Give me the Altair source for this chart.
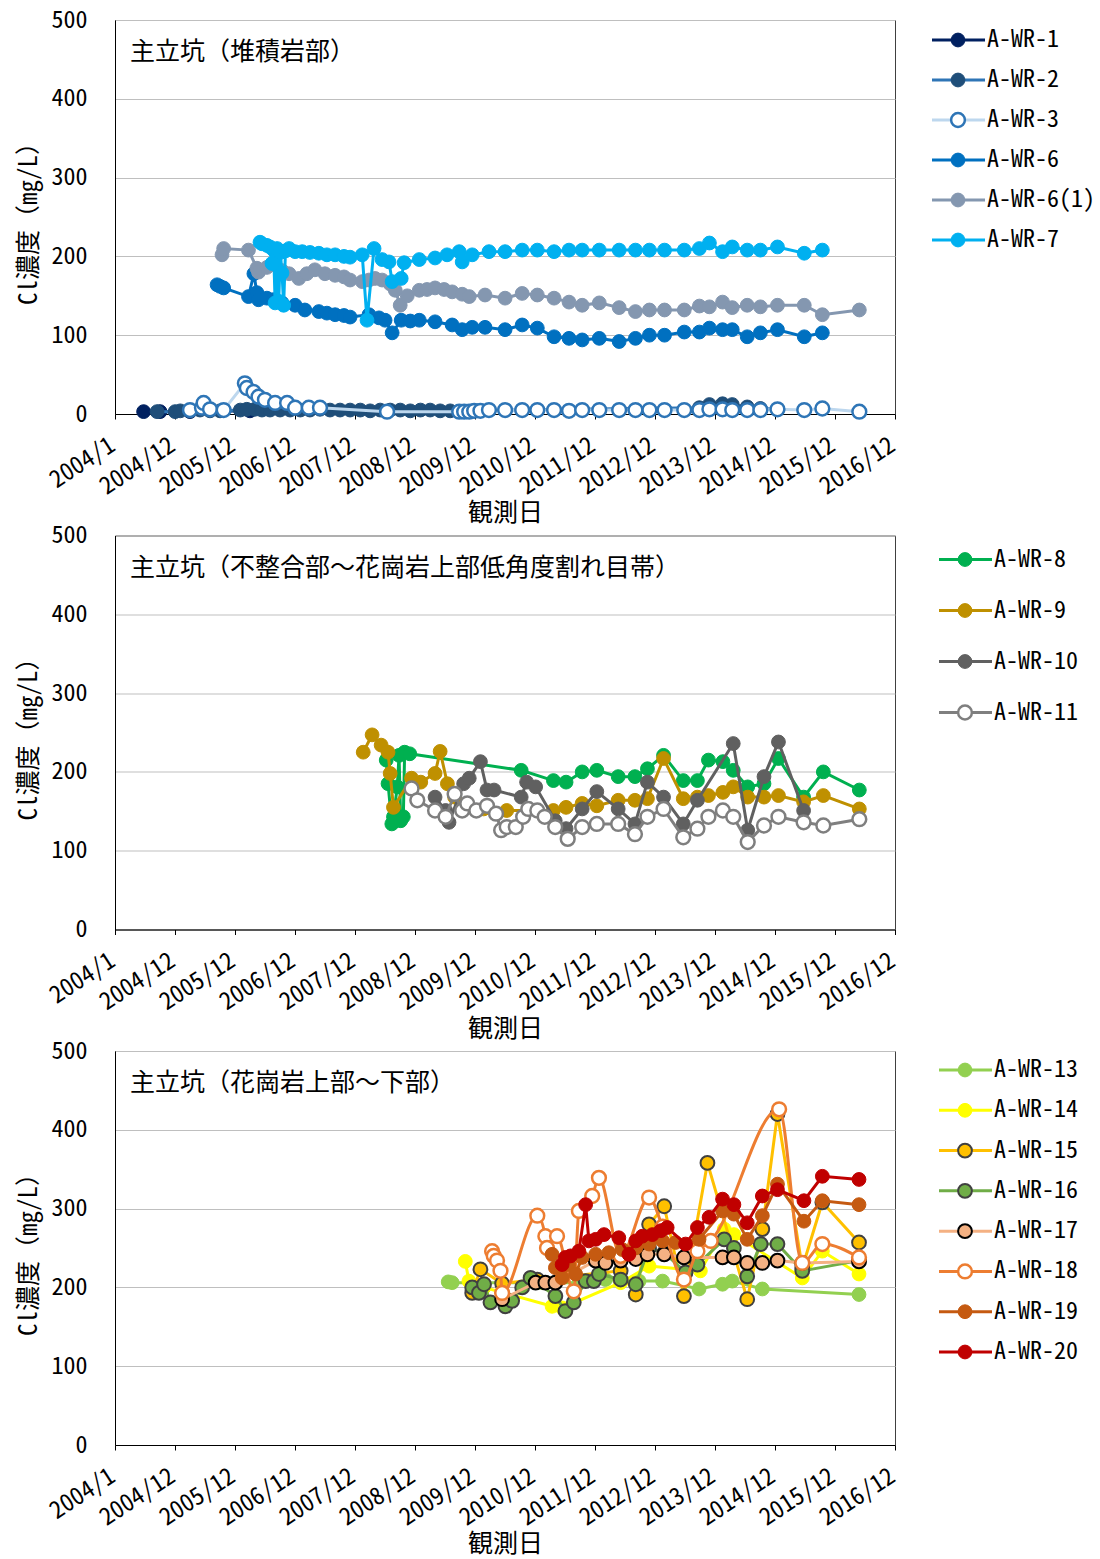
import json

import altair as alt
import pandas as pd

FONT = "'Noto Sans Mono CJK JP', 'Noto Sans CJK JP', monospace"
FONT_SIZE = 24
TITLE_SIZE = 25
MARK_SIZE = 190

ORIGIN = pd.Timestamp("2004-01-01")
TICK_LABELS = ["2004/1", "2004/12", "2005/12", "2006/12", "2007/12", "2008/12", "2009/12",
               "2010/12", "2011/12", "2012/12", "2013/12", "2014/12", "2015/12", "2016/12"]
AXIS_DAYS = [365 * i for i in range(len(TICK_LABELS))]

PANEL_TITLES = ["主立坑（堆積岩部）", "主立坑（不整合部～花崗岩上部低角度割れ目帯）", "主立坑（花崗岩上部～下部）"]

# ---- 主立坑（堆積岩部） ----
WR1_DATES = ["2004-06-23", "2004-10-01", "2005-04-01", "2006-04-01"]
WR1_CL = [3, 3, 3, 4]

WR2_DATES = ["2004-09-13", "2005-01-01", "2005-02-01", "2005-04-01", "2005-06-01", "2005-08-01", "2005-10-01",
             "2006-02-01", "2006-03-13", "2006-05-01", "2006-06-13", "2006-08-01", "2006-10-01", "2006-12-01",
             "2007-02-01", "2007-04-01", "2007-06-01", "2007-08-01", "2007-10-01", "2007-12-01",
             "2008-02-01", "2008-04-01", "2008-06-01", "2008-08-01", "2008-10-01", "2008-12-01",
             "2009-02-01", "2009-04-01", "2009-06-01", "2009-08-01",
             "2013-09-25", "2013-11-25", "2014-02-13", "2014-04-13", "2014-07-13", "2014-10-01", "2015-01-13"]
WR2_CL = [3, 3, 4, 4, 5, 4, 4, 5, 6, 6, 5, 5, 5, 5, 5, 5, 6, 5, 5, 5, 5, 4, 5, 5, 5, 4, 5, 5, 4, 4,
          8, 12, 13, 12, 9, 7, 6]

WR3_DATES = ["2005-04-01", "2005-06-13", "2005-06-23", "2005-08-01", "2005-10-23", "2006-03-01", "2006-03-13",
             "2006-04-23", "2006-05-23", "2006-07-01", "2006-09-01", "2006-11-13", "2007-01-01", "2007-03-25",
             "2007-06-01", "2008-07-13", "2009-09-25", "2009-10-25", "2009-11-25", "2009-12-25", "2010-02-01",
             "2010-03-25", "2010-07-01", "2010-10-13", "2011-01-13", "2011-04-25", "2011-07-25", "2011-10-13",
             "2012-01-25", "2012-05-25", "2012-09-01", "2012-11-25", "2013-02-25", "2013-06-25", "2013-09-25",
             "2013-11-25", "2014-02-13", "2014-04-13", "2014-07-13", "2014-10-01", "2015-01-13", "2015-06-25",
             "2015-10-13", "2016-05-25"]
WR3_CL = [5, 8, 14, 6, 5, 39, 33, 28, 22, 18, 14, 14, 8, 8, 8, 3, 3, 3, 3, 4, 4, 5, 5, 5, 5, 5, 4, 5,
          5, 5, 5, 5, 5, 5, 5, 6, 6, 5, 5, 5, 6, 5, 7, 3]

WR6_DATES = ["2005-09-13", "2005-10-01", "2005-10-23", "2006-03-23", "2006-04-25", "2006-05-13", "2006-05-23",
             "2006-07-13", "2006-08-20", "2006-10-13", "2007-01-01", "2007-03-01", "2007-05-25", "2007-07-13",
             "2007-09-01", "2007-10-25", "2007-12-01", "2008-03-25", "2008-05-25", "2008-07-01", "2008-08-13",
             "2008-10-07", "2008-12-01", "2009-01-25", "2009-05-01", "2009-08-13", "2009-10-13", "2009-12-13",
             "2010-03-01", "2010-07-01", "2010-10-13", "2011-01-13", "2011-04-25", "2011-07-25", "2011-10-13",
             "2012-01-25", "2012-05-25", "2012-09-01", "2012-11-25", "2013-02-25", "2013-06-25", "2013-09-25",
             "2013-11-25", "2014-02-13", "2014-04-13", "2014-07-13", "2014-10-01", "2015-01-13", "2015-06-25",
             "2015-10-13"]
WR6_CL = [164, 162, 160, 149, 178, 154, 145, 147, 145, 141, 138, 132, 130, 128, 126, 125, 123, 126, 122, 119,
          103, 119, 118, 119, 117, 113, 107, 110, 110, 107, 113, 109, 98, 96, 94, 96, 92, 96, 100, 100, 104,
          104, 109, 107, 107, 98, 103, 107, 98, 103]

WR6_1_DATES = ["2005-10-13", "2005-10-23", "2006-03-23", "2006-05-13", "2006-05-23", "2006-07-13", "2006-09-01",
               "2006-10-13", "2006-11-25", "2007-01-23", "2007-03-13", "2007-05-01", "2007-07-01", "2007-09-01",
               "2007-10-25", "2007-12-01", "2008-02-13", "2008-03-25", "2008-05-01", "2008-06-13", "2008-08-01",
               "2008-09-01", "2008-10-01", "2008-11-13", "2009-01-25", "2009-03-13", "2009-05-01", "2009-06-25",
               "2009-08-13", "2009-10-13", "2009-11-25", "2010-03-01", "2010-07-01", "2010-10-13", "2011-01-13",
               "2011-04-25", "2011-07-25", "2011-10-13", "2012-01-25", "2012-05-25", "2012-09-01", "2012-11-25",
               "2013-02-25", "2013-06-25", "2013-09-25", "2013-11-25", "2014-02-13", "2014-04-13", "2014-07-13",
               "2014-10-01", "2015-01-13", "2015-06-25", "2015-10-13", "2016-05-25"]
WR6_1_CL = [202, 210, 208, 185, 180, 186, 189, 182, 178, 172, 178, 183, 178, 176, 174, 170, 168, 170, 172, 170,
            165, 157, 138, 150, 157, 158, 160, 158, 155, 152, 149, 151, 147, 153, 151, 147, 142, 138, 141, 135,
            130, 132, 132, 132, 137, 136, 142, 135, 138, 136, 138, 138, 126, 132]

WR7_DATES = ["2006-06-01", "2006-06-13", "2006-07-13", "2006-08-01", "2006-08-13", "2006-08-23", "2006-09-01",
             "2006-09-13", "2006-09-23", "2006-10-03", "2006-10-13", "2006-10-23", "2006-11-03", "2006-11-25",
             "2007-01-01", "2007-02-13", "2007-04-01", "2007-05-25", "2007-07-13", "2007-09-01", "2007-10-25",
             "2007-12-01", "2008-02-13", "2008-03-13", "2008-04-25", "2008-06-13", "2008-07-25", "2008-08-13",
             "2008-10-07", "2008-10-25", "2009-01-25", "2009-05-01", "2009-07-13", "2009-09-25", "2009-10-13",
             "2009-12-13", "2010-03-25", "2010-07-01", "2010-10-13", "2011-01-13", "2011-04-25", "2011-07-25",
             "2011-10-13", "2012-01-25", "2012-05-25", "2012-09-01", "2012-11-25", "2013-02-25", "2013-06-25",
             "2013-09-25", "2013-11-25", "2014-02-13", "2014-04-13", "2014-07-13", "2014-10-01", "2015-01-13",
             "2015-06-25", "2015-10-13"]
WR7_CL = [218, 216, 214, 212, 191, 208, 141, 210, 143, 205, 179, 138, 207, 210, 206, 206, 205, 204, 202, 202,
          200, 199, 202, 119, 210, 196, 193, 168, 172, 192, 196, 198, 202, 206, 193, 202, 206, 206, 208, 208,
          206, 208, 208, 208, 208, 208, 208, 208, 208, 210, 217, 206, 212, 208, 208, 212, 204, 208]

# ---- 主立坑（不整合部～花崗岩上部低角度割れ目帯） ----
WR8_DATES = ["2008-07-08", "2008-07-19", "2008-08-11", "2008-08-21", "2008-09-13", "2008-09-24", "2008-10-04",
             "2008-10-20", "2008-10-28", "2008-11-28", "2010-10-07", "2011-04-21", "2011-07-07", "2011-10-13",
             "2012-01-10", "2012-05-19", "2012-08-29", "2012-11-13", "2013-02-19", "2013-06-19", "2013-09-13",
             "2013-11-19", "2014-02-15", "2014-04-19", "2014-07-16", "2014-10-23", "2015-01-19", "2015-06-21",
             "2015-10-19", "2016-05-25"]
WR8_CL = [215, 185, 134, 143, 181, 221, 138, 143, 225, 223, 202, 189, 187, 200, 202, 194, 194, 204, 221, 189,
          189, 215, 213, 202, 181, 185, 217, 168, 200, 177]

WR9_DATES = ["2008-02-19", "2008-04-13", "2008-06-07", "2008-07-19", "2008-08-01", "2008-08-21", "2008-12-09",
             "2009-02-03", "2009-05-01", "2009-06-01", "2009-07-15", "2009-08-28", "2010-02-21", "2010-07-11",
             "2011-04-21", "2011-07-07", "2011-10-13", "2012-01-10", "2012-05-19", "2012-08-29", "2012-11-13",
             "2013-02-19", "2013-06-19", "2013-09-13", "2013-11-19", "2014-02-15", "2014-04-19", "2014-07-16",
             "2014-10-23", "2015-01-19", "2015-06-21", "2015-10-19", "2016-05-25"]
WR9_CL = [225, 247, 234, 225, 198, 155, 192, 187, 198, 226, 185, 168, 153, 151, 151, 155, 160, 157, 164, 164,
          166, 217, 166, 168, 170, 174, 181, 168, 168, 170, 162, 170, 153]

WR10_DATES = ["2009-05-01", "2009-07-04", "2009-07-25", "2009-10-22", "2009-11-25", "2010-02-01", "2010-03-13",
              "2010-04-25", "2010-10-07", "2010-11-09", "2011-01-03", "2011-05-02", "2011-07-07", "2011-10-13",
              "2012-01-10", "2012-05-19", "2012-08-29", "2012-11-13", "2013-02-19", "2013-06-19", "2013-09-13",
              "2014-04-19", "2014-07-16", "2014-10-23", "2015-01-19", "2015-06-21"]
WR10_CL = [168, 151, 136, 185, 192, 213, 177, 177, 168, 187, 181, 138, 128, 153, 175, 153, 134, 187, 168, 134,
           164, 236, 126, 194, 238, 151]

WR11_DATES = ["2008-12-09", "2009-01-13", "2009-05-01", "2009-07-04", "2009-08-28", "2009-10-13", "2009-11-13",
              "2010-01-07", "2010-03-13", "2010-05-07", "2010-06-07", "2010-07-11", "2010-09-04", "2010-10-19",
              "2010-11-19", "2011-01-13", "2011-02-27", "2011-05-02", "2011-07-17", "2011-10-13", "2012-01-10",
              "2012-05-19", "2012-08-29", "2012-11-13", "2013-02-19", "2013-06-19", "2013-09-13", "2013-11-19",
              "2014-02-15", "2014-04-19", "2014-07-16", "2014-10-23", "2015-01-19", "2015-06-21", "2015-10-19",
              "2016-05-25"]
WR11_CL = [179, 164, 151, 143, 172, 151, 160, 151, 157, 147, 126, 130, 130, 143, 153, 151, 143, 130, 115, 130,
           134, 134, 121, 143, 153, 117, 128, 143, 151, 143, 111, 132, 143, 136, 132, 140]

# ---- 主立坑（花崗岩上部～下部） ----
WR13_DATES = ["2009-07-20", "2009-08-13", "2011-02-13", "2011-09-23", "2012-03-03", "2012-09-23", "2013-02-13",
              "2013-09-23", "2014-02-13", "2014-04-13", "2014-10-13", "2016-05-23"]
WR13_CL = [207, 206, 206, 206, 210, 208, 208, 198, 204, 208, 198, 191]

WR14_DATES = ["2009-11-01", "2009-11-23", "2010-02-23", "2011-04-13", "2011-06-13", "2012-06-03", "2012-11-23",
              "2013-10-01", "2014-02-23", "2014-04-23", "2015-06-13", "2015-10-13", "2016-05-23"]
WR14_CL = [233, 208, 200, 176, 174, 206, 227, 221, 274, 267, 212, 246, 217]

WR15_DATES = ["2009-12-13", "2010-02-01", "2010-06-13", "2011-01-13", "2012-06-03", "2012-09-03", "2012-11-23",
              "2013-02-23", "2013-06-23", "2013-11-13", "2014-07-13", "2014-10-13", "2015-01-13", "2015-06-13",
              "2015-10-13", "2016-05-23"]
WR15_CL = [193, 223, 205, 210, 221, 191, 280, 303, 189, 358, 185, 274, 420, 225, 308, 257]

WR16_DATES = ["2009-12-13", "2010-01-23", "2010-02-23", "2010-04-03", "2010-07-03", "2010-08-13", "2010-10-13",
              "2010-12-03", "2011-05-03", "2011-07-03", "2011-08-23", "2011-11-03", "2011-12-23", "2012-01-23",
              "2012-06-03", "2012-09-03", "2012-11-23", "2013-02-23", "2013-07-03", "2013-09-13", "2014-02-23",
              "2014-04-23", "2014-07-13", "2014-10-03", "2015-01-13", "2015-06-13", "2016-05-23"]
WR16_CL = [200, 193, 204, 181, 176, 183, 200, 212, 189, 170, 181, 208, 208, 217, 210, 204, 250, 244, 219, 229,
           261, 250, 214, 255, 255, 221, 234]

WR17_DATES = ["2010-06-13", "2011-01-03", "2011-03-03", "2011-05-03", "2012-01-03", "2012-03-03", "2012-06-03",
              "2012-09-03", "2012-11-13", "2013-02-23", "2013-06-23", "2014-02-13", "2014-04-23", "2014-07-13",
              "2014-10-13", "2015-01-13", "2015-06-13", "2016-05-23"]
WR17_CL = [185, 206, 206, 206, 234, 231, 234, 236, 242, 242, 238, 238, 238, 231, 231, 234, 231, 233]

WR18_DATES = ["2010-04-13", "2010-04-23", "2010-05-13", "2010-06-03", "2010-06-13", "2011-01-13", "2011-03-03",
              "2011-03-13", "2011-05-13", "2011-08-23", "2011-09-23", "2011-12-13", "2012-01-23", "2012-06-03",
              "2012-11-23", "2013-02-13", "2013-06-23", "2013-09-13", "2013-12-03", "2015-01-23", "2015-06-13",
              "2015-10-13", "2016-05-23"]
WR18_CL = [246, 240, 234, 221, 193, 291, 265, 250, 265, 195, 297, 316, 339, 240, 314, 277, 210, 246, 259, 426,
           231, 255, 238]

WR19_DATES = ["2011-04-13", "2011-05-03", "2011-06-13", "2011-07-23", "2011-09-03", "2011-10-13", "2012-01-03",
              "2012-03-23", "2012-06-13", "2012-09-03", "2012-11-23", "2013-02-13", "2013-05-03", "2013-09-23",
              "2014-02-13", "2014-04-23", "2014-07-13", "2014-10-13", "2015-01-13", "2015-06-23", "2015-10-13",
              "2016-05-23"]
WR19_CL = [242, 225, 212, 229, 217, 238, 242, 244, 248, 250, 255, 259, 257, 261, 297, 293, 261, 291, 331, 284,
           310, 305]

WR20_DATES = ["2011-06-13", "2011-07-03", "2011-08-03", "2011-09-23", "2011-11-03", "2011-11-23", "2012-01-03",
              "2012-02-23", "2012-05-23", "2012-07-23", "2012-09-03", "2012-10-13", "2012-12-13", "2013-02-03",
              "2013-03-13", "2013-07-03", "2013-09-13", "2013-11-23", "2014-02-13", "2014-04-23", "2014-07-13",
              "2014-10-13", "2015-01-13", "2015-06-23", "2015-10-13", "2016-05-23"]
WR20_CL = [229, 238, 240, 246, 305, 259, 261, 267, 263, 242, 259, 265, 267, 272, 276, 255, 276, 289, 312, 305,
           282, 316, 324, 310, 341, 337]

# line colour, marker fill, marker outline, outline width, interpolation
STYLE = {
    "A-WR-1": ("#002060", "#002060", "#002060", 1, "linear"),
    "A-WR-2": ("#2E75B6", "#1F4E79", "#1F4E79", 1, "linear"),
    "A-WR-3": ("#BDD7EE", "#FFFFFF", "#2E75B6", 2.5, "linear"),
    "A-WR-6": ("#0070C0", "#0070C0", "#0070C0", 1, "linear"),
    "A-WR-6(1)": ("#8497B0", "#8497B0", "#8497B0", 1, "linear"),
    "A-WR-7": ("#00B0F0", "#00B0F0", "#00B0F0", 1, "linear"),
    "A-WR-8": ("#00B050", "#00B050", "#00B050", 1, "linear"),
    "A-WR-9": ("#BF9000", "#BF9000", "#BF9000", 1, "linear"),
    "A-WR-10": ("#606060", "#606060", "#606060", 1, "linear"),
    "A-WR-11": ("#7F7F7F", "#FFFFFF", "#7F7F7F", 2.5, "linear"),
    "A-WR-13": ("#92D050", "#92D050", "#92D050", 1, "linear"),
    "A-WR-14": ("#FFFF00", "#FFFF00", "#FFFF00", 1, "linear"),
    "A-WR-15": ("#FFC000", "#FFC000", "#404040", 2, "linear"),
    "A-WR-16": ("#70AD47", "#70AD47", "#404040", 2, "linear"),
    "A-WR-17": ("#F4B183", "#F4B183", "#000000", 2, "linear"),
    "A-WR-18": ("#ED7D31", "#FFFFFF", "#ED7D31", 2.5, "monotone"),
    "A-WR-19": ("#C55A11", "#C55A11", "#C55A11", 1, "linear"),
    "A-WR-20": ("#C00000", "#C00000", "#C00000", 1, "linear"),
}

PANELS = [
    dict(title=PANEL_TITLES[0],
         series=[("A-WR-1", WR1_DATES, WR1_CL), ("A-WR-2", WR2_DATES, WR2_CL), ("A-WR-3", WR3_DATES, WR3_CL),
                 ("A-WR-6", WR6_DATES, WR6_CL), ("A-WR-6(1)", WR6_1_DATES, WR6_1_CL),
                 ("A-WR-7", WR7_DATES, WR7_CL)],
         legend_rows=(20, 220), legend_x=0),
    dict(title=PANEL_TITLES[1],
         series=[("A-WR-8", WR8_DATES, WR8_CL), ("A-WR-9", WR9_DATES, WR9_CL), ("A-WR-10", WR10_DATES, WR10_CL),
                 ("A-WR-11", WR11_DATES, WR11_CL)],
         legend_rows=(24, 177), legend_x=7),
    dict(title=PANEL_TITLES[2],
         series=[("A-WR-13", WR13_DATES, WR13_CL), ("A-WR-14", WR14_DATES, WR14_CL),
                 ("A-WR-15", WR15_DATES, WR15_CL), ("A-WR-16", WR16_DATES, WR16_CL),
                 ("A-WR-17", WR17_DATES, WR17_CL), ("A-WR-18", WR18_DATES, WR18_CL),
                 ("A-WR-19", WR19_DATES, WR19_CL), ("A-WR-20", WR20_DATES, WR20_CL)],
         legend_rows=(19, 301), legend_x=7),
]

PLOT_W, PLOT_H = 780, 394


def to_frame(dates, values):
    d = pd.DataFrame({"date": pd.to_datetime(dates), "cl": values})
    d["day"] = (d["date"] - ORIGIN).dt.days
    return d[["day", "cl"]]


X_AXIS = alt.Axis(
    values=AXIS_DAYS,
    labelExpr=json.dumps(TICK_LABELS) + "[round(datum.value / 365)]",
    labelAngle=327, labelAlign="right", labelBaseline="top", labelPadding=14, labelOffset=-9,
    labelFont=FONT, labelFontSize=FONT_SIZE, labelColor="#000000",
    labelOverlap=False, labelFlush=False,
    ticks=True, tickSize=5, tickColor="#000000", domainColor="#000000",
    grid=False,
    title="観測日", titleFont=FONT, titleFontSize=TITLE_SIZE, titleFontWeight="normal",
    titleColor="#000000", titlePadding=2,
)

Y_AXIS = alt.Axis(
    values=[0, 100, 200, 300, 400, 500],
    grid=True, gridColor="#BFBFBF", gridWidth=1,
    ticks=False, domainColor="#000000",
    labelFont=FONT, labelFontSize=FONT_SIZE, labelColor="#000000", labelPadding=28,
    title="Cl濃度（mg/L）", titleFont=FONT, titleFontSize=TITLE_SIZE, titleFontWeight="normal",
    titleColor="#000000", titlePadding=10,
)


def panel_chart(panel):
    x = alt.X("day:Q", scale=alt.Scale(domain=[0, AXIS_DAYS[-1]], nice=False, zero=False), axis=X_AXIS)
    y = alt.Y("cl:Q", scale=alt.Scale(domain=[0, 500], nice=False), axis=Y_AXIS)
    layers = []
    for name, dates, values in panel["series"]:
        line_c, fill_c, stroke_c, sw, interp = STYLE[name]
        base = alt.Chart(to_frame(dates, values)).encode(x=x, y=y)
        layers.append(base.mark_line(color=line_c, strokeWidth=3, interpolate=interp))
        layers.append(base.mark_point(shape="circle", filled=True, fill=fill_c, stroke=stroke_c,
                                      strokeWidth=sw, size=MARK_SIZE, opacity=1))
    label = alt.Chart(pd.DataFrame({"t": [panel["title"]]})).mark_text(
        align="left", baseline="middle", font=FONT, fontSize=TITLE_SIZE, color="#000000"
    ).encode(x=alt.value(15), y=alt.value(32), text="t:N")
    layers.append(label)
    return alt.layer(*layers).properties(
        width=PLOT_W, height=PLOT_H,
        view=alt.ViewBackground(stroke="#404040", strokeWidth=1),
    )


def legend_chart(panel):
    names = [s[0] for s in panel["series"]]
    d = pd.DataFrame({
        "name": names,
        "row": list(range(len(names))),
        "line": [STYLE[n][0] for n in names],
        "fill": [STYLE[n][1] for n in names],
        "stroke": [STYLE[n][2] for n in names],
        "sw": [STYLE[n][3] for n in names],
    })
    y0, y1 = panel["legend_rows"]
    x0 = panel["legend_x"]
    y = alt.Y("row:O", scale=alt.Scale(type="point", domain=list(range(len(names))), range=[y0, y1], padding=0),
              axis=None)
    base = alt.Chart(d).encode(y=y)
    rule = base.mark_rule(strokeWidth=3).encode(
        x=alt.value(x0), x2=alt.value(x0 + 53), color=alt.Color("line:N", scale=None))
    dot = base.mark_point(shape="circle", filled=True, size=MARK_SIZE, opacity=1).encode(
        x=alt.value(x0 + 26),
        fill=alt.Fill("fill:N", scale=None),
        stroke=alt.Stroke("stroke:N", scale=None),
        strokeWidth=alt.StrokeWidth("sw:Q", scale=None),
    )
    text = base.mark_text(align="left", baseline="middle", font=FONT, fontSize=FONT_SIZE, color="#000000").encode(
        x=alt.value(x0 + 55), text="name:N")
    return alt.layer(rule, dot, text).properties(width=140, height=PLOT_H)


cells = []
for p in PANELS:
    cells.append(panel_chart(p))
    cells.append(legend_chart(p))

chart = alt.concat(
    *cells, columns=2, spacing={"row": 121.5, "column": 37}, bounds="flush"
).properties(
    padding={"left": 15, "top": 7, "right": 0, "bottom": 0},
    background="#FFFFFF",
).configure_view(strokeWidth=0)

chart.save("out.html", embed_options={"renderer": "svg", "actions": False})
